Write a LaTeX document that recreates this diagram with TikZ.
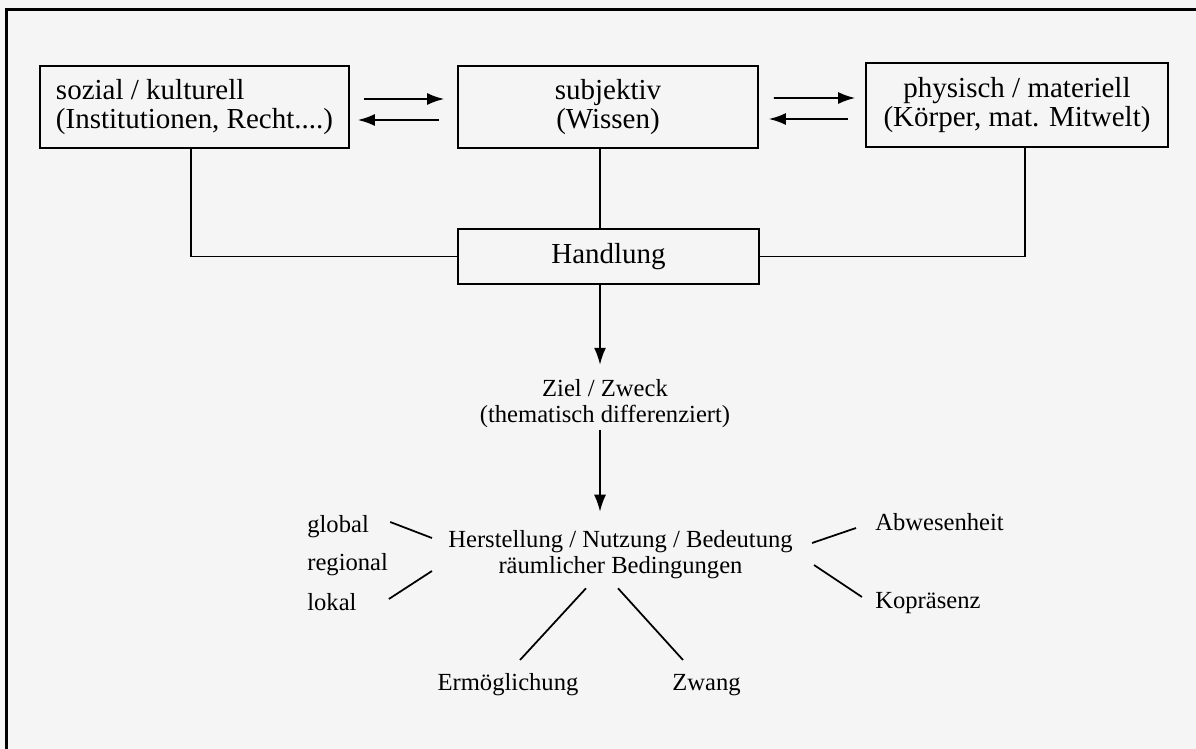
\documentclass[tikz,border=0pt]{standalone}
\usepackage{fontspec}
\setmainfont{Liberation Serif}
\usetikzlibrary{arrows.meta}
\tikzset{
  box/.style={draw,line width=1pt,align=center,font=\fontsize{16.5}{17}\selectfont},
  lbl/.style={inner sep=0pt,align=center,font=\fontsize{14}{14.5}\selectfont},
  arr/.style={-{Latex[length=3.4mm,width=2.4mm]},line width=1pt}
}
\begin{document}
\begin{tikzpicture}
  \useasboundingbox (0,0) rectangle (23.92,-14.98);
  \clip (0,0) rectangle (23.92,-14.98);
  \fill[black!4] (0,0) rectangle (23.92,-14.98);
  \draw[line width=1.4pt] (0.13,-16) -- (0.13,-0.19) -- (25,-0.19);

  \node[box,align=left,minimum width=6.18cm,minimum height=1.64cm] (soz) at (3.89,-2.14)
    {sozial / kulturell\\(Institutionen, Recht....)};
  \node[box,minimum width=6.0cm,minimum height=1.64cm] (subj) at (12.16,-2.14)
    {subjektiv\\(Wissen)};
  \node[box,minimum width=6.04cm,minimum height=1.68cm] (phys) at (20.34,-2.10)
    {physisch / materiell\\(Körper, mat. Mitwelt)};
  \node[box,minimum width=6.02cm,minimum height=1.1cm] (hand) at (12.17,-5.13) {Handlung};
  \coordinate (spine) at (12.0,0);

  \node[lbl] (ziel) at (12.1,-8.07) {Ziel / Zweck\\(thematisch differenziert)};
  \node[lbl] (herst) at (12.41,-11.09) {Herstellung / Nutzung / Bedeutung\\räumlicher Bedingungen};

  \node[lbl,anchor=base west] (glob) at (6.14,-10.64) {global};
  \node[lbl,anchor=base west] (reg) at (6.14,-11.40) {regional};
  \node[lbl,anchor=base west] (lok) at (6.14,-12.20) {lokal};
  \node[lbl,anchor=base west] (abw) at (17.5,-10.60) {Abwesenheit};
  \node[lbl,anchor=base west] (kop) at (17.5,-12.16) {Kopräsenz};
  \node[lbl,anchor=base] (erm) at (10.16,-13.80) {Ermöglichung};
  \node[lbl,anchor=base] (zw) at (14.13,-13.80) {Zwang};

  \draw[arr] ([shift={(0.28,0.16)}]soz.east) -- ([shift={(-0.26,0.16)}]subj.west);
  \draw[arr] ([shift={(-0.36,-0.26)}]subj.west) -- ([shift={(0.16,-0.26)}]soz.east);
  \draw[arr] ([shift={(0.30,0.18)}]subj.east) -- ([shift={(-0.20,0.14)}]phys.west);
  \draw[arr] ([shift={(-0.34,-0.28)}]phys.west) -- ([shift={(0.20,-0.24)}]subj.east);

  \draw[line width=1pt] (subj.south -| spine) -- (hand.north -| spine);
  \draw[line width=1pt] ([xshift=-0.07cm]soz.south) |- (hand.west);
  \draw[line width=1pt] ([xshift=0.16cm]phys.south) |- (hand.east);
  \draw[arr,shorten >=0.29cm] (hand.south -| spine) -- (ziel.north -| spine);
  \draw[arr,shorten <=0.05cm,shorten >=0.37cm] (ziel.south -| spine) -- (herst.north -| spine);

  \draw[line width=1pt] ([shift={(0.42,0.20)}]glob.base east) -- ([shift={(-0.32,0.33)}]herst.west);
  \draw[line width=1pt] ([shift={(0.64,0.22)}]lok.base east) -- ([shift={(-0.32,-0.33)}]herst.west);
  \draw[line width=1pt] ([shift={(0.24,0.60)}]erm.base) -- ([shift={(-0.69,-0.19)}]herst.south);
  \draw[line width=1pt] ([shift={(-0.47,0.60)}]zw.base) -- ([shift={(-0.05,-0.19)}]herst.south);
  \draw[line width=1pt] ([shift={(-0.38,0.04)}]abw.base west) -- ([shift={(0.38,0.23)}]herst.east);
  \draw[line width=1pt] ([shift={(-0.26,0.22)}]kop.base west) -- ([shift={(0.42,-0.21)}]herst.east);
\end{tikzpicture}
\end{document}
